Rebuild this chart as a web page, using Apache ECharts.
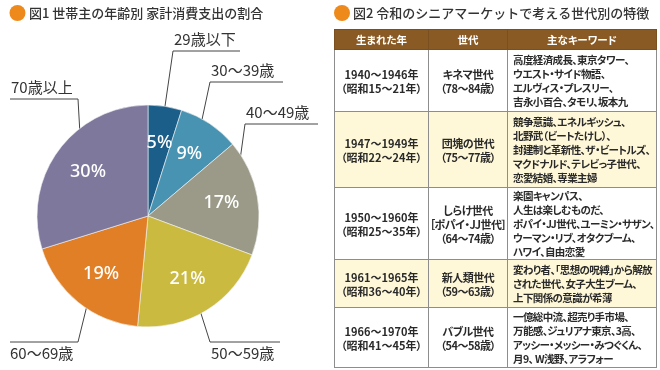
<!DOCTYPE html>
<html><head><meta charset="utf-8">
<script src="https://cdn.jsdelivr.net/npm/echarts@6/dist/echarts.min.js"></script>
<style>
html,body{margin:0;padding:0;background:#fff;}
#wrap{position:relative;width:660px;height:370px;overflow:hidden;}
#chart{position:absolute;left:0;top:0;width:660px;height:370px;}
#tbl{position:absolute;left:334px;top:29px;width:322px;border-collapse:collapse;table-layout:fixed;
 font-family:"Noto Sans CJK JP","Noto Sans",sans-serif;font-size:10.5px;font-weight:bold;color:#2a2a2a;
 line-height:14px;font-feature-settings:"palt";}
#tbl td,#tbl th{border:1px solid #8d8d8d;padding:0;vertical-align:middle;white-space:nowrap;overflow:hidden;}
#tbl th{background:#8a5a24;color:#fff;height:19px;border-color:#7a5020;font-size:10.5px;}
#tbl th+th{border-left-color:#b08050;}
#tbl td.c1,#tbl td.c2{text-align:center;font-size:11px;}
#tbl td.c2{letter-spacing:-0.5px;}
#tbl td.c3{text-align:left;padding-left:5px;letter-spacing:-0.6px;}
#tbl tr.alt td{background:#fff8d8;}
</style></head>
<body><div id="wrap"><div id="chart"></div><table id="tbl"></table></div>
<script>
// ---- Data ----
const ageCategories = ["29歳以下","30〜39歳","40〜49歳","50〜59歳","60〜69歳","70歳以上"];
const shareValues = [4.9, 8.9, 16.9, 20.8, 18.7, 29.8];
const sliceColors = ["#1b5e89","#4893b1","#9b9a88","#cbba40","#e07f25","#7e789d"];

const title1 = "図1 世帯主の年齢別 家計消費支出の割合";
const title2 = "図2 令和のシニアマーケットで考える世代別の特徴";

const tableHeaders = ["生まれた年","世代","主なキーワード"];
const birthYears = [
  ["1940〜1946年","（昭和15〜21年）"],
  ["1947〜1949年","（昭和22〜24年）"],
  ["1950〜1960年","（昭和25〜35年）"],
  ["1961〜1965年","（昭和36〜40年）"],
  ["1966〜1970年","（昭和41〜45年）"]
];
const generations = [
  ["キネマ世代","（78〜84歳）"],
  ["団塊の世代","（75〜77歳）"],
  ["しらけ世代","［ポパイ・JJ世代］","（64〜74歳）"],
  ["新人類世代","（59〜63歳）"],
  ["バブル世代","（54〜58歳）"]
];
const keywords = [
  ["高度経済成長、東京タワー、","ウエスト・サイド物語、","エルヴィス・プレスリー、","吉永小百合、タモリ、坂本九"],
  ["競争意識、エネルギッシュ、","北野武（ビートたけし）、","封建制と革新性、ザ・ビートルズ、","マクドナルド、テレビっ子世代、","恋愛結婚、専業主婦"],
  ["楽園キャンパス、","人生は楽しむものだ、","ポパイ・JJ世代、ユーミン・サザン、","ウーマン・リブ、オタクブーム、","ハワイ、自由恋愛"],
  ["変わり者、「思想の呪縛」から解放","された世代、女子大生ブーム、","上下関係の意識が希薄"],
  ["一億総中流、超売り手市場、","万能感、ジュリアナ東京、3高、","アッシー・メッシー・みつぐくん、","月9、 W浅野、アラフォー"]
];

// ---- Layout (styles / positions) ----
const rowHeights = [62, 76, 72, 48, 60];
const pieCenter = [148, 216];
const pieRadius = 111;
const leaders = [
  {k:0.97, elbow:[173,51],  end:[240,51],  tx:174, ty:47,  va:'bottom'},
  {k:0.80, elbow:[210,82],  end:[283,82],  tx:211, ty:78,  va:'bottom'},
  {k:0.79, elbow:[245,124], end:[318,124], tx:246, ty:120, va:'bottom'},
  {k:0.76, elbow:[210,342], end:[280,342], tx:211, ty:346, va:'top'},
  {k:0.80, elbow:[78,342],  end:[10,342],  tx:10,  ty:346, va:'top'},
  {k:0.74, elbow:[78,99],   end:[10,99],   tx:11,  ty:95,  va:'bottom'}
];

// ---- Table ----
(function(){
  const t = document.getElementById('tbl');
  let h = '<colgroup><col style="width:94px"><col style="width:79px"><col style="width:149px"></colgroup>';
  h += '<tr>' + tableHeaders.map(s=>'<th>'+s+'</th>').join('') + '</tr>';
  for (let i=0;i<birthYears.length;i++){
    h += '<tr class="'+(i%2===1?'alt':'')+'" style="height:'+rowHeights[i]+'px">';
    h += '<td class="c1">'+birthYears[i].join('<br>')+'</td>';
    h += '<td class="c2">'+generations[i].join('<br>')+'</td>';
    h += '<td class="c3">'+keywords[i].join('<br>')+'</td>';
    h += '</tr>';
  }
  t.innerHTML = h;
})();

// ---- Chart ----
const chart = echarts.init(document.getElementById('chart'), null, {renderer:'canvas'});
const pieData = ageCategories.map((n,i)=>({name:n, value:shareValues[i], itemStyle:{color:sliceColors[i]}}));
const font = '"Noto Sans CJK JP","Noto Sans",sans-serif';

chart.setOption({
  animation:false,
  graphic:[
    {type:'circle', shape:{cx:17.5, cy:13, r:8}, style:{fill:'#ee8a1c'}},
    {type:'text', x:29, y:13, style:{text:title1, fill:'#333', font:'500 13px '+font, textVerticalAlign:'middle'}},
    {type:'circle', shape:{cx:342, cy:13, r:8}, style:{fill:'#ee8a1c'}},
    {type:'text', x:353, y:13, style:{text:title2, fill:'#333', font:'500 13px '+font, textVerticalAlign:'middle'}}
  ],
  series:[
    {
      type:'pie', center:pieCenter, radius:[0,pieRadius], startAngle:90, clockwise:true,
      data:pieData, silent:true,
      itemStyle:{borderColor:'#f4f4f4', borderWidth:0.6},
      label:{show:true, position:'outside', alignTo:'none', overflow:'none', bleedMargin:0,
             formatter:'{b}', color:'#333', fontSize:15, fontFamily:font},
      labelLine:{show:true, length:20, length2:20, lineStyle:{color:'#444', width:1}},
      labelLayout:function(p){
        const L = leaders[p.dataIndex];
        const p0 = p.labelLinePoints ? p.labelLinePoints[0] : pieCenter;
        const s = [pieCenter[0] + (p0[0]-pieCenter[0])*L.k, pieCenter[1] + (p0[1]-pieCenter[1])*L.k];
        return {x:L.tx, y:L.ty, align:'left', verticalAlign:L.va, hideOverlap:false,
                labelLinePoints:[s, L.elbow, L.end]};
      }
    },
    {
      type:'pie', center:pieCenter, radius:[32,pieRadius], startAngle:90, clockwise:true,
      data:ageCategories.map((n,i)=>({name:n, value:shareValues[i]})),
      silent:true,
      itemStyle:{color:'rgba(0,0,0,0)'},
      label:{show:true, position:'inside', color:'#fff', fontSize:18, fontWeight:500, fontFamily:'"Noto Sans",sans-serif',
             formatter:p=>Math.round(p.value)+'%'},
      labelLine:{show:false}
    }
  ]
});
</script></body></html>
